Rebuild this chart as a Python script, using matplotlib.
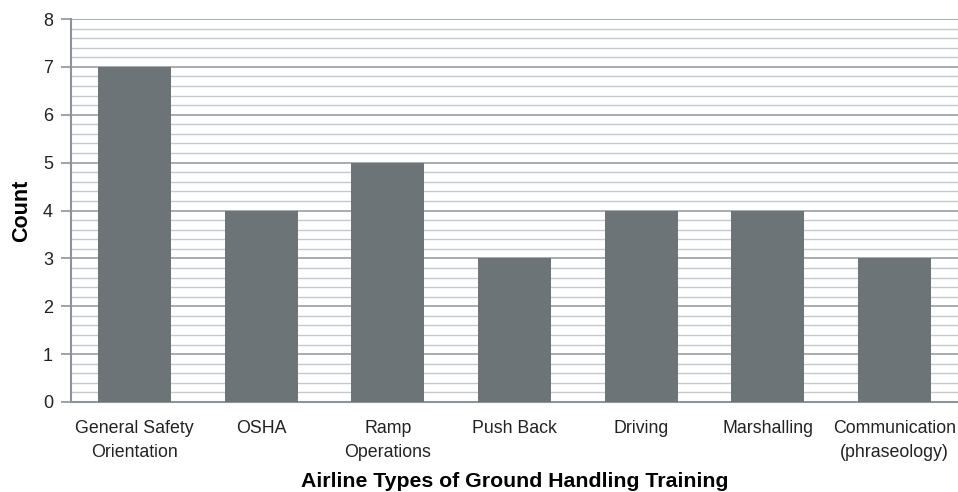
import numpy as np
import matplotlib.pyplot as plt
from matplotlib.ticker import MultipleLocator

categories = ['General Safety\nOrientation', 'OSHA', 'Ramp\nOperations', 'Push Back',
              'Driving', 'Marshalling', 'Communication\n(phraseology)']
counts = [7, 4, 5, 3, 4, 4, 3]

plt.rcParams['font.family'] = ['Liberation Sans', 'DejaVu Sans']

fig = plt.figure(figsize=(9.58, 4.92), dpi=100)
ax = fig.add_axes([71 / 958, 1 - 402 / 492, 1 - 71 / 958, (402 - 19) / 492])

x = np.arange(len(categories))
ax.bar(x, counts, width=0.576, color='#6d7477', zorder=3)

ax.set_xlim(-0.5, len(categories) - 0.5)
ax.set_ylim(0, 8)
ax.yaxis.set_major_locator(MultipleLocator(1))
ax.yaxis.set_minor_locator(MultipleLocator(0.2))
ax.grid(which='major', axis='y', color='#9a9ea2', linewidth=1.2, zorder=1)
ax.grid(which='minor', axis='y', color='#c5c9cd', linewidth=1.0, zorder=1)

ax.set_xticks(x)
ax.set_xticklabels(categories, fontsize=12.8, color='#222222', linespacing=1.55)
ax.tick_params(axis='x', length=0, pad=13)
ax.tick_params(axis='y', which='major', length=7, width=1.2, color='#8e9398',
               labelsize=13, pad=6, labelcolor='#222222')
ax.tick_params(axis='y', which='minor', length=0)

for s in ['top', 'right']:
    ax.spines[s].set_visible(False)
for s in ['left', 'bottom']:
    ax.spines[s].set_color('#8e9398')
    ax.spines[s].set_linewidth(1.5)

ax.set_ylabel('Count', fontsize=15.5, fontweight='bold', labelpad=8)
ax.set_xlabel('Airline Types of Ground Handling Training', fontsize=15.3,
              fontweight='bold', labelpad=8)

fig.savefig('out.png', dpi=100)
